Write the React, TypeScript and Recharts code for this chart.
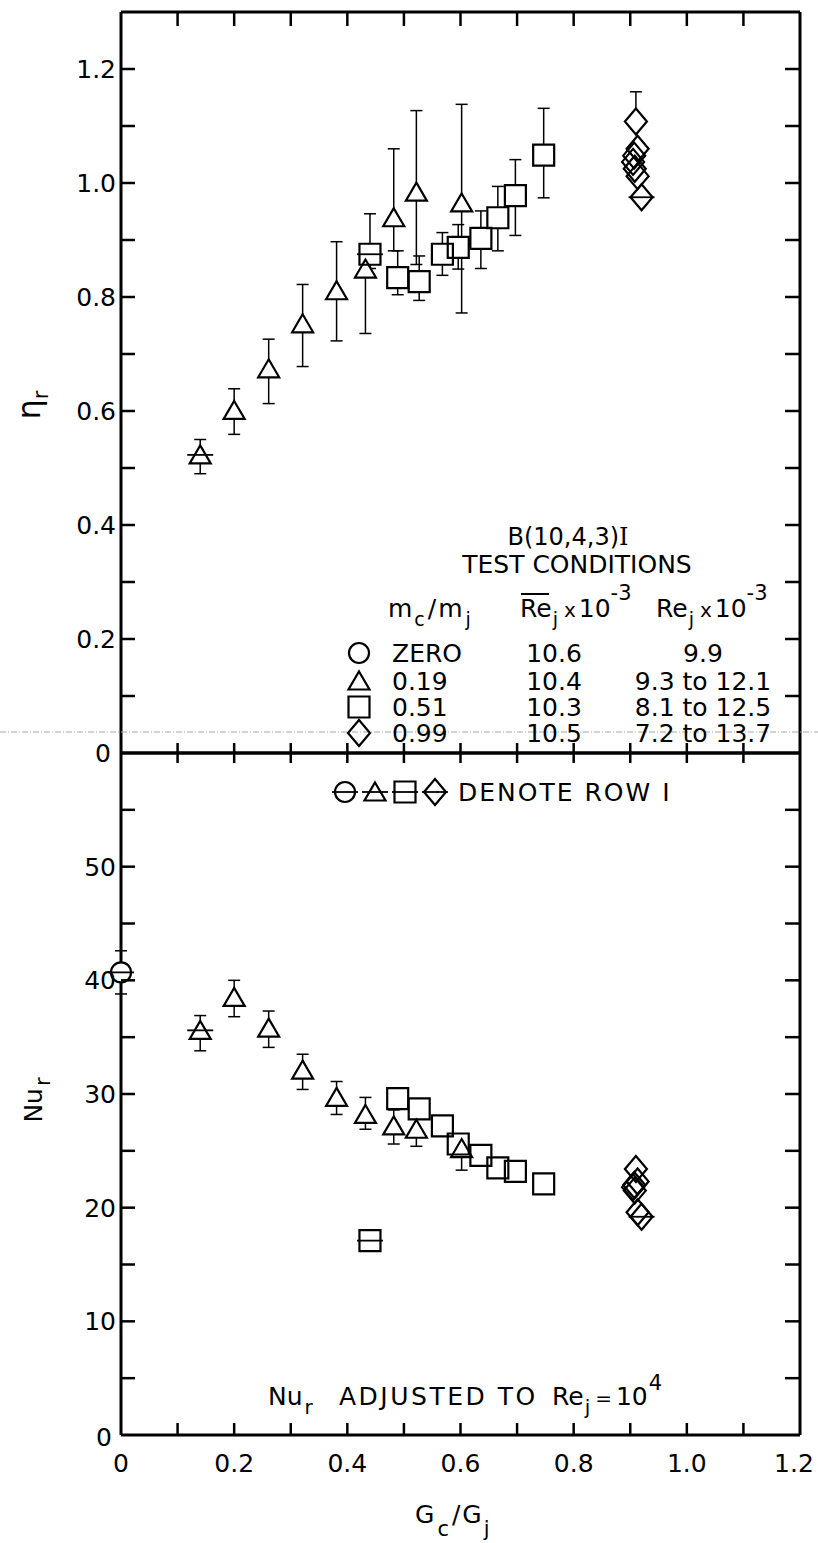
import React from 'react'
import { ScatterChart, Scatter, XAxis, YAxis, ErrorBar, ReferenceLine } from 'recharts'

const FONT = "'DejaVu Sans', sans-serif"
const W = 818
const H = 1543
// plot frame (page pixels)
const L = 121
const R = 800
const TOP = 12
const MID = 753
const BOT = 1435

const gTicks = [0, 0.1, 0.2, 0.3, 0.4, 0.5, 0.6, 0.7, 0.8, 0.9, 1.0, 1.1, 1.2]
const etaTicks = [0, 0.1, 0.2, 0.3, 0.4, 0.5, 0.6, 0.7, 0.8, 0.9, 1.0, 1.1, 1.2]
const nuTicks = [0, 5, 10, 15, 20, 25, 30, 35, 40, 45, 50, 55]

// m_c/m_j = ZERO
const circG = [0]
const circNu = [40.7]
const circNuHi = [42.6]
const circNuLo = [38.8]
const circRowOne = [true]

// m_c/m_j = 0.19
const triG = [0.14, 0.2, 0.261, 0.321, 0.381, 0.432, 0.482, 0.522, 0.602]
const triEta = [0.523, 0.601, 0.674, 0.753, 0.811, 0.849, 0.939, 0.984, 0.965]
const triEtaHi = [0.55, 0.639, 0.726, 0.822, 0.897, 0.88, 1.06, 1.127, 1.138]
const triEtaLo = [0.49, 0.559, 0.613, 0.678, 0.723, 0.736, 0.881, 0.857, 0.772]
const triNu = [35.6, 38.5, 35.8, 32.1, 29.7, 28.2, 27.2, 26.9, 25.2]
const triNuHi = [36.9, 40.0, 37.3, 33.5, 31.1, 29.7, 28.6, 28.3, 26.5]
const triNuLo = [33.8, 36.8, 34.1, 30.4, 28.2, 26.9, 25.6, 25.4, 23.3]
const triRowOne = [true, false, false, false, false, false, false, false, false]

// m_c/m_j = 0.51
const sqG = [0.44, 0.489, 0.527, 0.568, 0.596, 0.636, 0.666, 0.697, 0.747]
const sqEta = [0.875, 0.834, 0.827, 0.875, 0.887, 0.903, 0.939, 0.978, 1.049]
const sqEtaHi = [0.946, 0.881, 0.872, 0.913, 0.927, 0.951, 0.994, 1.041, 1.131]
const sqEtaLo = [0.85, 0.804, 0.794, 0.838, 0.849, 0.85, 0.881, 0.908, 0.974]
const sqNu = [17.1, 29.6, 28.7, 27.2, 25.6, 24.6, 23.5, 23.2, 22.1]
const sqRowOne = [true, false, false, false, false, false, false, false, false]

// m_c/m_j = 0.99
const diaG = [0.91, 0.913, 0.907, 0.905, 0.908, 0.913, 0.92]
const diaEta = [1.108, 1.06, 1.048, 1.037, 1.025, 1.012, 0.975]
const diaEtaHi = [1.16, null, null, null, null, null, null]
const diaNu = [23.4, 22.3, 22.0, 21.8, 21.5, 19.6, 19.2]
const diaRowOne = [false, false, false, false, false, false, true]

// test-conditions table
const ratioLabels = ['ZERO', '0.19', '0.51', '0.99']
const meanRe = ['10.6', '10.4', '10.3', '10.5']
const rangeRe = ['9.9', '9.3 to 12.1', '8.1 to 12.5', '7.2 to 13.7']

type Kind = 'circ' | 'tri' | 'sq' | 'dia'
type Pt = { g: number; v: number; err?: [number, number]; one: boolean }

const build = (
  g: number[],
  v: number[],
  one: boolean[],
  hi?: (number | null)[],
  lo?: (number | null)[]
): Pt[] =>
  g.map((x, i) => {
    const h = hi ? hi[i] : null
    const l = lo ? lo[i] : null
    const err =
      h == null && l == null
        ? undefined
        : ([l == null ? 0 : v[i] - l, h == null ? 0 : h - v[i]] as [number, number])
    return { g: x, v: v[i], err, one: one[i] }
  })

const etaSeries: { kind: Kind; data: Pt[] }[] = [
  { kind: 'tri', data: build(triG, triEta, triRowOne, triEtaHi, triEtaLo) },
  { kind: 'sq', data: build(sqG, sqEta, sqRowOne, sqEtaHi, sqEtaLo) },
  { kind: 'dia', data: build(diaG, diaEta, diaRowOne, diaEtaHi) },
]

const nuSeries: { kind: Kind; data: Pt[] }[] = [
  { kind: 'circ', data: build(circG, circNu, circRowOne, circNuHi, circNuLo) },
  { kind: 'tri', data: build(triG, triNu, triRowOne, triNuHi, triNuLo) },
  { kind: 'sq', data: build(sqG, sqNu, sqRowOne) },
  { kind: 'dia', data: build(diaG, diaNu, diaRowOne) },
]

function Mark({ kind, cx, cy, mask, one }: { kind: Kind; cx: number; cy: number; mask?: boolean; one?: boolean }) {
  const fill = mask ? '#fff' : 'none'
  const stroke = mask ? '#fff' : '#000'
  const sw = mask ? 1 : 2.2
  let el: React.ReactNode
  if (kind === 'circ') {
    el = <circle cx={cx} cy={cy} r={10} fill={fill} stroke={stroke} strokeWidth={sw} />
  } else {
    const d =
      kind === 'tri'
        ? `M${cx},${cy - 9.5} L${cx + 10.5},${cy + 8.5} L${cx - 10.5},${cy + 8.5} Z`
        : kind === 'sq'
        ? `M${cx - 10.5},${cy - 10.5} h21 v21 h-21 Z`
        : `M${cx},${cy - 13} L${cx + 11},${cy} L${cx},${cy + 13} L${cx - 11},${cy} Z`
    el = <path d={d} fill={fill} stroke={stroke} strokeWidth={sw} strokeLinejoin="miter" />
  }
  return (
    <g>
      {el}
      {one && !mask && <line x1={cx - 13} x2={cx + 13} y1={cy} y2={cy} stroke="#000" strokeWidth={1.8} />}
    </g>
  )
}

const fmt = (v: number) => (v === 0 ? '0' : v.toFixed(1))
const tickStroke = { stroke: '#000', strokeWidth: 2.5 }

// frame edges drawn with the axis scales, ticks drawn inward from both sides
function GTickTop(p: any) {
  const { x, index } = p
  if (index === 0 || index === gTicks.length - 1) return <g />
  return (
    <g>
      <line x1={x} x2={x} y1={MID} y2={MID - 10} {...tickStroke} />
      <line x1={x} x2={x} y1={TOP} y2={TOP + 14} {...tickStroke} />
    </g>
  )
}

function GTickBottom(p: any) {
  const { x, index, payload } = p
  const last = index === gTicks.length - 1
  const edge = index === 0 || last
  return (
    <g>
      {!edge && <line x1={x} x2={x} y1={BOT} y2={BOT - 12} {...tickStroke} />}
      {!edge && <line x1={x} x2={x} y1={MID} y2={MID + 10} {...tickStroke} />}
      {index % 2 === 0 && (
        <text x={last ? x - 6 : x} y={BOT + 37} textAnchor="middle" fontSize={25} fontFamily={FONT} fill="#000">
          {fmt(payload.value)}
        </text>
      )}
    </g>
  )
}

function EtaTick(p: any) {
  const { y, index, payload } = p
  return (
    <g>
      {index > 0 && <line x1={L} x2={L + 14} y1={y} y2={y} {...tickStroke} />}
      {index > 0 && <line x1={R - 15} x2={R} y1={y} y2={y} {...tickStroke} />}
      {index % 2 === 0 && (
        <text x={index === 0 ? 111 : 116} y={y + 9} textAnchor="end" fontSize={25} fontFamily={FONT} fill="#000">
          {fmt(payload.value)}
        </text>
      )}
    </g>
  )
}

function NuTick(p: any) {
  const { y, index, payload } = p
  return (
    <g>
      {index > 0 && <line x1={L} x2={L + 14} y1={y} y2={y} {...tickStroke} />}
      {index > 0 && <line x1={R - 15} x2={R} y1={y} y2={y} {...tickStroke} />}
      {index % 2 === 0 && (
        <text x={index === 0 ? 112 : 116} y={y + (index === 0 ? 11 : 9)} textAnchor="end" fontSize={25} fontFamily={FONT} fill="#000">
          {String(payload.value)}
        </text>
      )}
    </g>
  )
}

function renderSeries(series: { kind: Kind; data: Pt[] }[], tag: string) {
  // white backings carry the error bars so whiskers stop at the symbol outline
  const backs = series.map((s) => (
    <Scatter
      key={`${tag}-back-${s.kind}`}
      data={s.data}
      dataKey="v"
      isAnimationActive={false}
      shape={(p: any) => <Mark kind={s.kind} cx={p.cx} cy={p.cy} mask />}
    >
      <ErrorBar dataKey="err" direction="y" width={6} stroke="#000" strokeWidth={1.5} />
    </Scatter>
  ))
  const marks = series.map((s) => (
    <Scatter
      key={`${tag}-mark-${s.kind}`}
      data={s.data}
      dataKey="v"
      isAnimationActive={false}
      shape={(p: any) => <Mark kind={s.kind} cx={p.cx} cy={p.cy} one={p.payload?.one} />}
    />
  ))
  return [...backs, ...marks]
}

function Frame({ yMax }: { yMax: number }) {
  return [
    <ReferenceLine key="fl" x={0} stroke="#000" strokeWidth={3} />,
    <ReferenceLine key="fr" x={1.2} stroke="#000" strokeWidth={3} />,
    <ReferenceLine key="fb" y={0} stroke="#000" strokeWidth={3} />,
    <ReferenceLine key="ft" y={yMax} stroke="#000" strokeWidth={3} />,
  ]
}

const txt = { fontFamily: FONT, fontSize: 25, fill: '#000' }
const rowBase = [662, 690, 716, 742]
const rowKinds: Kind[] = ['circ', 'tri', 'sq', 'dia']

function Annotations() {
  return (
    <svg width={W} height={H} style={{ position: 'absolute', left: 0, top: 0, pointerEvents: 'none' }}>
      <line x1={0} x2={W} y1={732} y2={732} stroke="#a8a8a8" strokeWidth={1} strokeDasharray="6 2 1 2" />

      {/* test conditions table */}
      <text x={568} y={545} textAnchor="middle" {...txt} fontSize={24}>
        B(10,4,3)<tspan fontFamily="'DejaVu Serif', serif">I</tspan>
      </text>
      <text x={577} y={573} textAnchor="middle" {...txt}>TEST CONDITIONS</text>
      <text x={388} y={617} {...txt}>
        m<tspan dy={9} dx={2} fontSize={19}>c</tspan>
        <tspan dy={-9} dx={3}>/</tspan>
        <tspan dx={2}>m</tspan>
        <tspan dy={9} dx={3} fontSize={19}>j</tspan>
      </text>
      <text x={520} y={617} {...txt}>
        Re<tspan dy={9} dx={1} fontSize={19}>j</tspan>
        <tspan dy={-9} dx={6} fontSize={20}>x</tspan>
        <tspan dx={3}>10</tspan>
        <tspan dy={-17} fontSize={21}>-3</tspan>
      </text>
      <line x1={521} x2={549} y1={594} y2={594} stroke="#000" strokeWidth={2} />
      <text x={656} y={617} {...txt}>
        Re<tspan dy={9} dx={1} fontSize={19}>j</tspan>
        <tspan dy={-9} dx={6} fontSize={20}>x</tspan>
        <tspan dx={3}>10</tspan>
        <tspan dy={-17} fontSize={21}>-3</tspan>
      </text>
      {rowKinds.map((k, i) => (
        <g key={k}>
          <Mark kind={k} cx={359} cy={rowBase[i] - 9} />
          <text x={392} y={rowBase[i]} {...txt}>{ratioLabels[i]}</text>
          <text x={554} y={rowBase[i]} textAnchor="middle" {...txt}>{meanRe[i]}</text>
          <text x={703} y={rowBase[i]} textAnchor="middle" {...txt}>{rangeRe[i]}</text>
        </g>
      ))}

      {/* row 1 key */}
      {rowKinds.map((k, i) => (
        <Mark key={`row-${k}`} kind={k} cx={345 + i * 30} cy={792} one />
      ))}
      <text x={458} y={801} letterSpacing={2} {...txt}>DENOTE ROW I</text>

      {/* Nusselt note */}
      <text x={268} y={1405} {...txt}>
        Nu<tspan dy={9} dx={2} fontSize={20}>r</tspan>
      </text>
      <text x={339} y={1405} letterSpacing={2.5} {...txt}>ADJUSTED TO</text>
      <text x={552} y={1405} {...txt}>
        Re<tspan dy={9} dx={1} fontSize={20}>j</tspan>
        <tspan dy={-9} dx={5} fontSize={20}>=</tspan>
        <tspan dx={4}>10</tspan>
        <tspan dy={-15} dx={1} fontSize={21}>4</tspan>
      </text>

      {/* axis titles */}
      <text x={415} y={1523} letterSpacing={1} {...txt}>
        G<tspan dy={13} dx={2} fontSize={21}>c</tspan>
        <tspan dy={-13} dx={2}>/</tspan>
        <tspan dx={1}>G</tspan>
        <tspan dy={13} dx={1} fontSize={21}>j</tspan>
      </text>
      <text transform="translate(40,405) rotate(-90)" textAnchor="middle" {...txt} fontSize={32}>
        η<tspan dy={8} fontSize={21}>r</tspan>
      </text>
      <text transform="translate(42,1100) rotate(-90)" textAnchor="middle" {...txt}>
        Nu<tspan dy={8} dx={2} fontSize={21}>r</tspan>
      </text>
    </svg>
  )
}

export default function App() {
  return (
    <div style={{ position: 'absolute', left: 0, top: 0, width: W, height: H, background: '#fff' }}>
      <div style={{ position: 'absolute', left: 0, top: 0 }}>
        <ScatterChart width={W} height={H} margin={{ top: TOP, right: W - R, bottom: H - MID - 1, left: L - 1 }}>
          <XAxis
            type="number"
            dataKey="g"
            domain={[0, 1.2]}
            ticks={gTicks}
            interval={0}
            height={1}
            axisLine={false}
            tickLine={false}
            tick={(p: any) => <GTickTop {...p} />}
          />
          <YAxis
            type="number"
            dataKey="v"
            domain={[0, 1.3]}
            ticks={etaTicks}
            interval={0}
            width={1}
            axisLine={false}
            tickLine={false}
            tick={(p: any) => <EtaTick {...p} />}
          />
          {Frame({ yMax: 1.3 })}
          {renderSeries(etaSeries, 'eta')}
        </ScatterChart>
      </div>
      <div style={{ position: 'absolute', left: 0, top: 0 }}>
        <ScatterChart width={W} height={H} margin={{ top: MID, right: W - R, bottom: H - BOT - 1, left: L - 1 }}>
          <XAxis
            type="number"
            dataKey="g"
            domain={[0, 1.2]}
            ticks={gTicks}
            interval={0}
            height={1}
            axisLine={false}
            tickLine={false}
            tick={(p: any) => <GTickBottom {...p} />}
          />
          <YAxis
            type="number"
            dataKey="v"
            domain={[0, 60]}
            ticks={nuTicks}
            interval={0}
            width={1}
            axisLine={false}
            tickLine={false}
            tick={(p: any) => <NuTick {...p} />}
          />
          {Frame({ yMax: 60 })}
          {renderSeries(nuSeries, 'nu')}
        </ScatterChart>
      </div>
      <Annotations />
    </div>
  )
}
